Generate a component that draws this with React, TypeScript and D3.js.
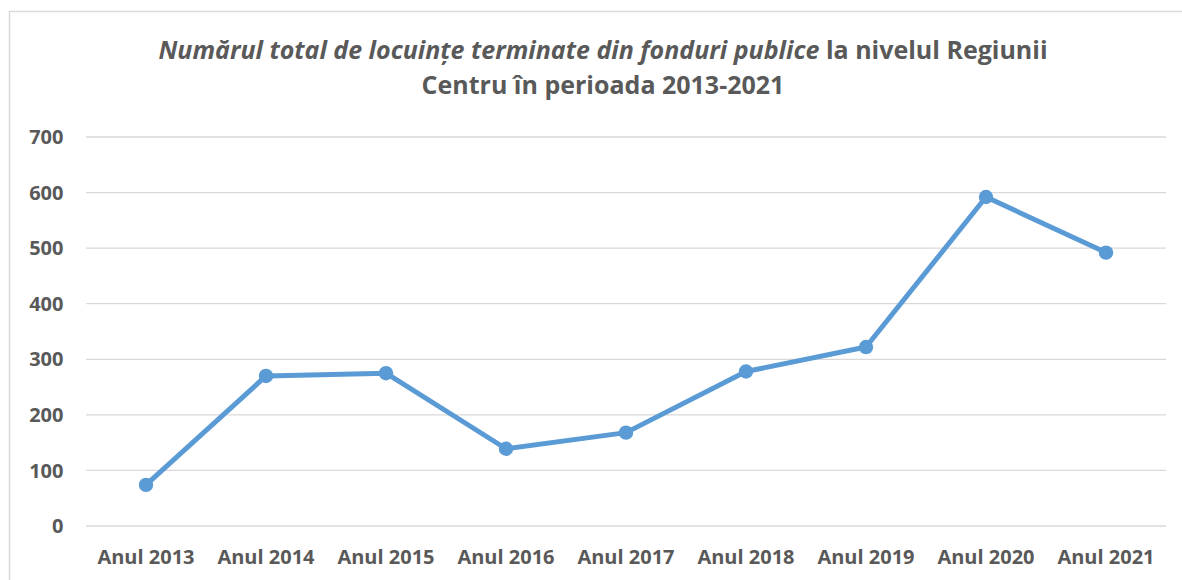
import React from "react";
import * as d3 from "d3";

const categories = ["Anul 2013", "Anul 2014", "Anul 2015", "Anul 2016", "Anul 2017", "Anul 2018", "Anul 2019", "Anul 2020", "Anul 2021"];
const values = [74, 270, 275, 139, 168, 278, 322, 592, 492];
const yTicks = [0, 100, 200, 300, 400, 500, 600, 700];
const titleItalic = "Numărul total de locuințe terminate din fonduri publice";
const titleRest = " la nivelul Regiunii";
const titleLine2 = "Centru în perioada 2013-2021";

export default function App() {
  const W = 1182, H = 580;
  const x = d3.scaleBand<string>().domain(categories).range([86, 1166]);
  const y = d3.scaleLinear().domain([0, 700]).range([526, 137]);
  const line = d3.line<number>()
    .x((_, i) => (x(categories[i]) as number) + x.bandwidth() / 2)
    .y((d) => y(d));
  const font = "'Open Sans', sans-serif";
  const txt = "#595959";
  return (
    <svg width={W} height={H} style={{ position: "absolute", left: 0, top: 0, background: "#fff" }} fontFamily={font}>
      <rect x={9.5} y={11.5} width={1200} height={600} fill="#fff" stroke="#d9d9d9" strokeWidth={1.5} />
      <text x={603} y={59} textAnchor="middle" fontSize={25} fontWeight="bold" fill={txt}>
        <tspan fontStyle="italic">{titleItalic}</tspan>
        <tspan>{titleRest}</tspan>
      </text>
      <text x={603} y={94} textAnchor="middle" fontSize={25} fontWeight="bold" fill={txt}>{titleLine2}</text>
      {yTicks.map((t) => (
        <g key={t}>
          <line x1={86} x2={1166} y1={y(t)} y2={y(t)} stroke="#d9d9d9" strokeWidth={1.3} />
          <text x={63.5} y={y(t)} dy="0.36em" textAnchor="end" fontSize={20} fontWeight="bold" fill={txt}>{t}</text>
        </g>
      ))}
      {categories.map((c) => (
        <text key={c} x={(x(c) as number) + x.bandwidth() / 2} y={564} textAnchor="middle" fontSize={20} fontWeight="bold" fill={txt}>{c}</text>
      ))}
      <path d={line(values) || ""} fill="none" stroke="#5B9BD5" strokeWidth={5} strokeLinejoin="round" strokeLinecap="round" />
      {values.map((v, i) => (
        <circle key={i} cx={(x(categories[i]) as number) + x.bandwidth() / 2} cy={y(v)} r={7.2} fill="#5B9BD5" />
      ))}
    </svg>
  );
}
